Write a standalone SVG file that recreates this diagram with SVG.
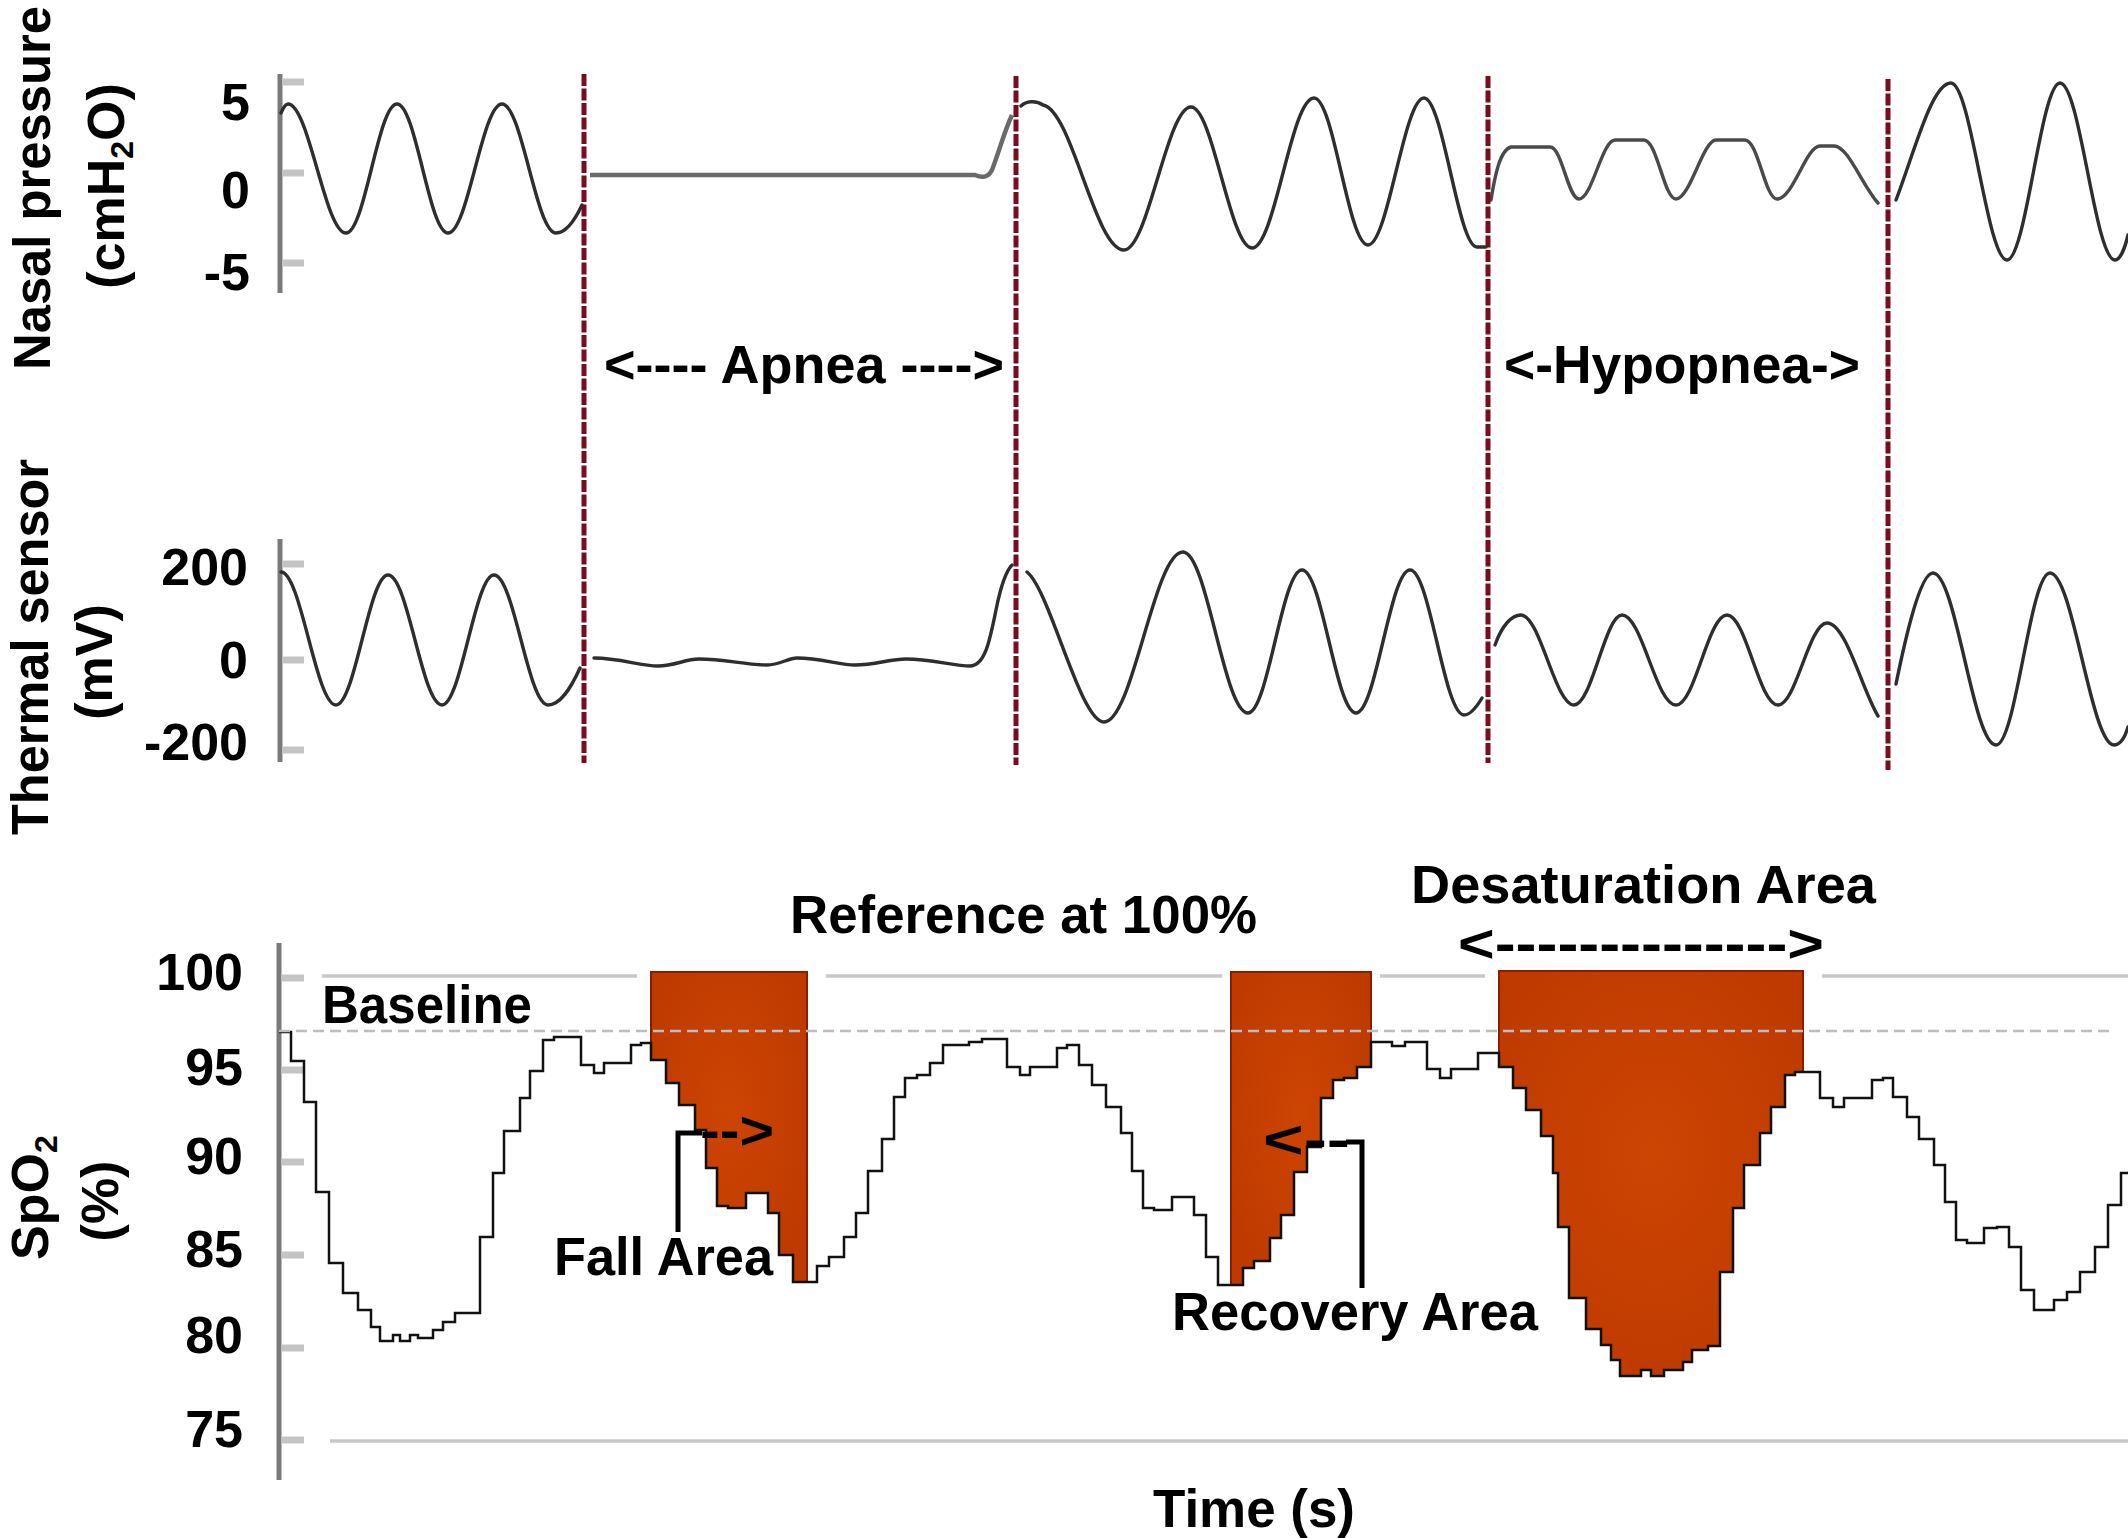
<svg xmlns="http://www.w3.org/2000/svg" width="2128" height="1538" viewBox="0 0 2128 1538">
<style>
.axis{stroke:#7a7a7a;stroke-width:5;fill:none}
.tick{stroke:#c4c4c4;stroke-width:7;fill:none}
.wave{stroke:#2e2e2e;stroke-width:3.4;fill:none;stroke-linejoin:round;stroke-linecap:round}
.flat{stroke:#6a6a6a;stroke-width:4.5;fill:none}
.evt{stroke:#7a0c1c;stroke-width:5;stroke-dasharray:12 2.5;fill:none}
.ref{stroke:#c8c8c8;stroke-width:3.5;fill:none}
.base{stroke:#bdbdbd;stroke-width:2.5;stroke-dasharray:11 6;fill:none}
.area{fill:url(#areaGrad);stroke:#8a1c00;stroke-width:2}
.trace{stroke:#111;stroke-width:2.5;fill:none;stroke-linejoin:miter}
.brk{stroke:#000;stroke-width:5;fill:none}
.title{font-family:"Liberation Sans",Arial,sans-serif;font-weight:bold;font-size:52px;fill:#000}
.num{font-family:"Liberation Sans",Arial,sans-serif;font-weight:bold;font-size:52px;fill:#000;text-anchor:end}
.lbl{font-family:"Liberation Sans",Arial,sans-serif;font-weight:bold;font-size:53px;fill:#000}
</style>
<defs>
<radialGradient id="areaGrad" cx="50%" cy="45%" r="60%">
<stop offset="0" stop-color="#cd4503"/>
<stop offset="1" stop-color="#be3a00"/>
</radialGradient>
</defs>
<rect width="2128" height="1538" fill="#fff"/>

<g id="nasal-panel">
<text class="title" transform="translate(50,370) rotate(-90)" textLength="364" lengthAdjust="spacingAndGlyphs">Nasal pressure</text>
<text class="title" transform="translate(124,186) rotate(-90)" text-anchor="middle">(cmH<tspan font-size="32" dy="9">2</tspan><tspan dy="-9">O)</tspan></text>
<line class="axis" x1="280" y1="74" x2="280" y2="293"/>
<line class="tick" x1="282" y1="82" x2="304" y2="82"/>
<line class="tick" x1="282" y1="173" x2="304" y2="173"/>
<line class="tick" x1="282" y1="263" x2="304" y2="263"/>
<text class="num" x="250" y="120" font-size="48">5</text>
<text class="num" x="250" y="208" font-size="48">0</text>
<text class="num" x="250" y="290" font-size="48">-5</text>
<path class="wave" d="M281,113 C284,106 286,104 288,104 C309,104 325,233 346,233 C365,233 378,104 397,104 C416,104 429,233 448,233 C468,233 482,104 502,104 C522,104 536,233 556,233 C566,233 574,222 582,205"/>
<path class="flat" d="M590,175 H975 C982,178 988,178 992,170 C998,155 1004,132 1012,115"/>
<path class="wave" d="M1021,106 C1026,101 1036,100 1043,105 C1072,110 1095,250 1124,250 C1148,250 1167,107 1191,107 C1213,107 1230,248 1252,248 C1275,248 1291,98 1314,98 C1334,98 1348,245 1368,245 C1388,245 1404,98 1424,98 C1443,98 1458,247 1477,247 H1486"/>
<path class="wave" style="stroke:#4a4a4a" d="M1491,200 C1495,175 1500,150 1511,147 H1550 C1562,147 1568,199 1579,199 C1592,199 1602,140 1615,140 H1644 C1657,140 1664,199 1676,199 C1690,199 1703,140 1716,140 H1745 C1758,140 1765,199 1777,199 C1793,199 1806,146 1820,146 H1834 C1848,146 1862,185 1878,203"/>
<path class="wave" d="M1896,200 C1915,150 1932,83 1951,83 C1971,83 1987,260 2007,260 C2026,260 2041,83 2060,83 C2080,83 2095,260 2115,260 C2120,260 2125,248 2128,235"/>
<text class="lbl" x="604" y="383" font-size="50" textLength="400" lengthAdjust="spacingAndGlyphs">&lt;---- Apnea ----&gt;</text>
<text class="lbl" x="1504" y="383" font-size="50" textLength="356" lengthAdjust="spacingAndGlyphs">&lt;-Hypopnea-&gt;</text>
</g>

<g id="thermal-panel">
<text class="title" transform="translate(48,835) rotate(-90)" textLength="376" lengthAdjust="spacingAndGlyphs">Thermal sensor</text>
<text class="title" transform="translate(112,662) rotate(-90)" text-anchor="middle">(mV)</text>
<line class="axis" x1="280" y1="539" x2="280" y2="762"/>
<line class="tick" x1="282" y1="564" x2="304" y2="564"/>
<line class="tick" x1="282" y1="660" x2="304" y2="660"/>
<line class="tick" x1="282" y1="750" x2="304" y2="750"/>
<text class="num" x="248" y="585">200</text>
<text class="num" x="248" y="678">0</text>
<text class="num" x="248" y="760">-200</text>
<path class="wave" d="M281,572 C301,572 316,705 336,705 C355,705 369,575 388,575 C408,575 422,705 442,705 C461,705 475,575 494,575 C514,575 528,705 548,705 C560,705 570,690 580,668"/>
<path class="wave" d="M594,658 C620,658 640,666 658,666 C675,666 685,659 699,659 C725,659 745,665 767,665 C780,665 788,658 797,658 C820,658 840,665 855,665 C875,665 890,659 906,659 C930,659 955,666 970,666 C985,666 990,640 996,610 C1000,590 1005,572 1012,565"/>
<path class="wave" d="M1027,572 C1050,590 1080,722 1104,722 C1133,722 1154,552 1183,552 C1207,552 1224,713 1248,713 C1268,713 1282,570 1302,570 C1322,570 1336,713 1356,713 C1376,713 1390,570 1410,570 C1430,570 1444,715 1464,715 C1470,715 1476,708 1482,698"/>
<path class="wave" d="M1495,645 C1502,625 1512,615 1521,615 C1540,615 1555,705 1574,705 C1592,705 1605,615 1622,615 C1642,615 1656,705 1676,705 C1695,705 1708,615 1727,615 C1746,615 1759,705 1778,705 C1796,705 1809,623 1827,623 C1846,623 1862,690 1878,716"/>
<path class="wave" d="M1896,684 C1905,640 1920,573 1933,573 C1956,573 1973,745 1996,745 C2016,745 2030,573 2050,573 C2073,573 2091,745 2114,745 C2120,745 2125,737 2128,727"/>
</g>

<g id="event-markers">
<line class="evt" x1="584" y1="74" x2="584" y2="763"/>
<line class="evt" x1="1016" y1="76" x2="1016" y2="765"/>
<line class="evt" x1="1488" y1="76" x2="1488" y2="763"/>
<line class="evt" x1="1888" y1="79" x2="1888" y2="770"/>
</g>

<g id="spo2-panel">
<text class="title" transform="translate(48,1260) rotate(-90)">SpO<tspan font-size="32" dy="9">2</tspan></text>
<text class="title" transform="translate(118,1201) rotate(-90)" text-anchor="middle">(%)</text>
<line class="ref" x1="322" y1="976" x2="637" y2="976"/>
<line class="ref" x1="826" y1="976" x2="1222" y2="976"/>
<line class="ref" x1="1380" y1="976" x2="1485" y2="976"/>
<line class="ref" x1="1822" y1="976" x2="2128" y2="976"/>
<line class="ref" x1="330" y1="1441" x2="2128" y2="1441"/>
<line class="axis" x1="279" y1="943" x2="279" y2="1480"/>
<line class="tick" x1="281" y1="978" x2="304" y2="978"/>
<line class="tick" x1="281" y1="1070" x2="304" y2="1070"/>
<line class="tick" x1="281" y1="1162" x2="304" y2="1162"/>
<line class="tick" x1="281" y1="1255" x2="304" y2="1255"/>
<line class="tick" x1="281" y1="1348" x2="304" y2="1348"/>
<line class="tick" x1="281" y1="1440" x2="304" y2="1440"/>
<text class="num" x="243" y="990">100</text>
<text class="num" x="243" y="1085">95</text>
<text class="num" x="243" y="1174">90</text>
<text class="num" x="243" y="1267">85</text>
<text class="num" x="243" y="1353">80</text>
<text class="num" x="243" y="1447">75</text>
<path id="fall-area" class="area" d="M651,1043 V1060 H666 V1083 H679 V1105 H695 V1130 H706 V1168 H717 V1206 H728 V1208 H746 V1193 H768 V1213 H779 V1255 H793 V1282 H807 V972 H651 Z"/>
<path id="recovery-area" class="area" d="M1231,1285 H1243 V1268 H1254 V1261 H1270 V1238 H1281 V1215 H1294 V1172 H1307 V1147 H1321 V1098 H1333 V1080 H1344 V1078 H1357 V1067 H1371 V972 H1231 Z"/>
<path id="desaturation-area" class="area" d="M1499,1053 V1067 H1513 V1088 H1526 V1110 H1541 V1136 H1553 V1173 H1558 V1227 H1569 V1298 H1586 V1329 H1601 V1345 H1611 V1360 H1620 V1376 H1641 V1370 H1651 V1376 H1664 V1370 H1683 V1362 H1692 V1350 H1708 V1346 H1720 V1272 H1733 V1208 H1744 V1165 H1760 V1133 H1771 V1107 H1785 V1075 H1795 V1072 H1803 V971 H1499 Z"/>
<path class="trace" d="M279,1032 H291 V1061 H304 V1102 H316 V1192 H329 V1263 H343 V1293 H358 V1310 H371 V1327 H380 V1341 H393 V1335 H400 V1341 H410 V1335 H418 V1338 H433 V1330 H443 V1322 H455 V1313 H480 V1237 H493 V1173 H504 V1131 H520 V1098 H530 V1071 H543 V1040 H554 V1037 H581 V1065 H594 V1073 H604 V1063 H631 V1045 H641 V1043 H651 V1060 H666 V1083 H679 V1105 H695 V1130 H706 V1168 H717 V1206 H728 V1208 H746 V1193 H768 V1213 H779 V1255 H793 V1282 H817 V1266 H829 V1257 H844 V1237 H856 V1213 H868 V1171 H882 V1139 H894 V1097 H905 V1078 H917 V1075 H930 V1063 H943 V1045 H969 V1042 H982 V1039 H1007 V1067 H1020 V1075 H1030 V1067 H1057 V1048 H1067 V1045 H1079 V1065 H1092 V1085 H1106 V1107 H1121 V1133 H1132 V1171 H1143 V1208 H1154 V1210 H1172 V1197 H1194 V1215 H1206 V1257 H1218 V1285 H1243 V1268 H1254 V1261 H1270 V1238 H1281 V1215 H1294 V1172 H1307 V1147 H1321 V1098 H1333 V1080 H1344 V1078 H1357 V1067 H1371 V1042 H1392 V1046 H1405 V1042 H1427 V1069 H1440 V1078 H1451 V1069 H1478 V1053 H1499 V1067 H1513 V1088 H1526 V1110 H1541 V1136 H1553 V1173 H1558 V1227 H1569 V1298 H1586 V1329 H1601 V1345 H1611 V1360 H1620 V1376 H1641 V1370 H1651 V1376 H1664 V1370 H1683 V1362 H1692 V1350 H1708 V1346 H1720 V1272 H1733 V1208 H1744 V1165 H1760 V1133 H1771 V1107 H1785 V1075 H1795 V1072 H1820 V1098 H1833 V1107 H1844 V1098 H1872 V1080 H1883 V1078 H1893 V1097 H1907 V1117 H1919 V1139 H1934 V1165 H1945 V1202 H1956 V1240 H1967 V1243 H1984 V1228 H1997 V1227 H2009 V1247 H2021 V1290 H2034 V1310 H2054 V1300 H2067 V1292 H2080 V1272 H2095 V1247 H2108 V1205 H2121 V1173 H2128"/>
<line class="base" x1="279" y1="1031" x2="2111" y2="1031"/>
<text class="lbl" x="322" y="1023" textLength="210" lengthAdjust="spacingAndGlyphs">Baseline</text>
<text class="lbl" x="790" y="933" textLength="467" lengthAdjust="spacingAndGlyphs">Reference at 100%</text>
<text class="lbl" x="1411" y="903" textLength="465" lengthAdjust="spacingAndGlyphs">Desaturation Area</text>
<text class="lbl" x="1458" y="962" font-size="56" textLength="366" lengthAdjust="spacingAndGlyphs">&lt;--------------&gt;</text>
<text class="lbl" x="554" y="1275" textLength="219" lengthAdjust="spacingAndGlyphs">Fall Area</text>
<text class="lbl" x="700" y="1149" font-size="56" textLength="74" lengthAdjust="spacingAndGlyphs">--&gt;</text>
<text class="lbl" x="1263" y="1158" font-size="56" textLength="87" lengthAdjust="spacingAndGlyphs">&lt;--</text>
<text class="lbl" x="1172" y="1330" textLength="366" lengthAdjust="spacingAndGlyphs">Recovery Area</text>
<text class="lbl" x="1153" y="1527" textLength="202" lengthAdjust="spacingAndGlyphs">Time (s)</text>
</g>

<g id="connectors">
<path class="brk" d="M678,1232 V1133 H702"/>
<path class="brk" d="M1346,1142 H1362 V1288"/>
</g>
</svg>
